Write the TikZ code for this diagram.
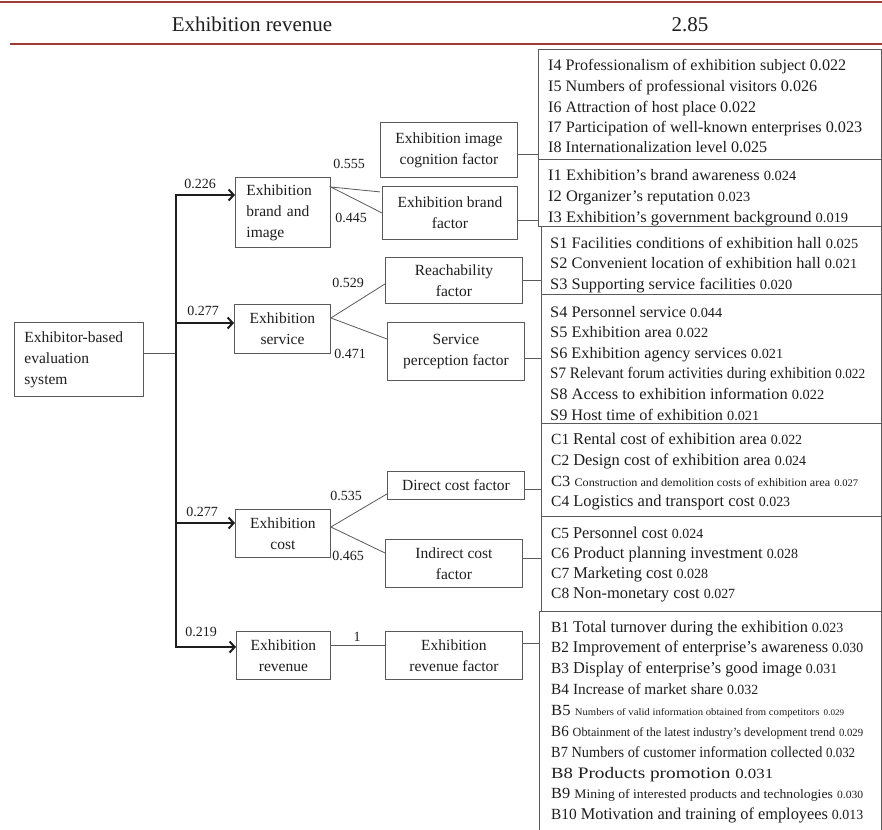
\documentclass[tikz,border=0pt]{standalone}
\usepackage{fontspec}
\setmainfont{Liberation Serif}
\usepackage{graphicx}
\usetikzlibrary{arrows.meta}
\definecolor{rulered}{HTML}{9E3B3B}
\definecolor{boxgray}{HTML}{5A5A5A}
\definecolor{txt}{HTML}{1E1E1E}
\newcommand\fitw[2]{\resizebox{#1pt}{\height}{#2}}
\newcommand\fsz[2]{{\fontsize{#1}{#1}\selectfont #2}}
\newcommand\pfx[1]{\fsz{15.5}{#1}}
\newcommand\nv[1]{\fsz{14}{#1}}
\begin{document}
\begin{tikzpicture}[x=1pt,y=-1pt,
  box/.style={draw=boxgray, line width=0.9pt, inner sep=0pt, anchor=north west, align=center, text=txt, font=\fontsize{15.5}{21}\selectfont},
  rbox/.style={draw=boxgray, line width=0.9pt, inner sep=0pt, anchor=north west},
  li/.style={anchor=base west, inner sep=0pt, text=txt, font=\fontsize{16}{16}\selectfont},
  lab/.style={inner sep=0pt, text=txt, font=\fontsize{14}{14}\selectfont},
  con/.style={draw=boxgray, line width=0.8pt},
  arr/.style={line width=2pt, draw=txt, -{Straight Barb[length=5pt,width=11pt]}},
  hdr/.style={anchor=base, inner sep=0pt, text=txt, font=\fontsize{21}{21}\selectfont},
  hrule/.style={draw=rulered}
]
\useasboundingbox (0,0) rectangle (882,829);
\fill[white] (0,0) rectangle (882,829);

% header
\draw[hrule, line width=2.5pt] (0,2) -- (882,2);
\draw[hrule, line width=1.6pt] (10,44) -- (882,44);
\node[hdr] (h1) at (252,32) {Exhibition revenue};
\node[hdr] (h2) at (690,32) {2.85};

% right list boxes
\node[rbox, minimum width=343pt, minimum height=110pt] (Ia) at (538,49) {};
\node[rbox, minimum width=343pt, minimum height=67pt] (Ib) at (538,159) {};
\node[rbox, minimum width=340pt, minimum height=68pt] (Sa) at (541,226) {};
\node[rbox, minimum width=340pt, minimum height=129pt] (Sb) at (541,294) {};
\node[rbox, minimum width=340pt, minimum height=93pt] (Ca) at (541,423) {};
\node[rbox, minimum width=340pt, minimum height=95pt] (Cb) at (541,516) {};
\node[rbox, draw=none, minimum width=342pt, minimum height=230pt] (Bb) at (539,611) {};
\draw[con, line width=0.9pt] (Bb.south west) -- (Bb.north west) -- (Bb.north east) -- (Bb.south east);

% list lines
\node[li] (i4) at (548,71) {\fitw{298}{I4 Professionalism of exhibition subject 0.022}};
\node[li] (i5) at (548,92) {\fitw{269}{I5 Numbers of professional visitors 0.026}};
\node[li] (i6) at (548,113) {\fitw{208}{I6 Attraction of host place 0.022}};
\node[li] (i7) at (548,133) {\fitw{314}{I7 Participation of well-known enterprises 0.023}};
\node[li] (i8) at (548,153) {\fitw{219}{I8 Internationalization level 0.025}};
\node[li] (i1) at (548,180) {\fitw{248}{I1 Exhibition’s brand awareness \nv{0.024}}};
\node[li] (i2) at (548,201) {\fitw{202}{I2 Organizer’s reputation \nv{0.023}}};
\node[li] (i3) at (548,222) {\fitw{300}{I3 Exhibition’s government background \nv{0.019}}};

\node[li] (s1) at (550,248) {\fitw{308}{S1 Facilities conditions of exhibition hall \nv{0.025}}};
\node[li] (s2) at (550,268) {\fitw{307}{S2 Convenient location of exhibition hall \nv{0.021}}};
\node[li] (s3) at (550,289) {\fitw{242}{S3 Supporting service facilities \nv{0.020}}};
\node[li] (s4) at (550,317) {\fitw{172}{S4 Personnel service \nv{0.044}}};
\node[li] (s5) at (550,337) {\fitw{158}{S5 Exhibition area \nv{0.022}}};
\node[li] (s6) at (550,358) {\fitw{233}{S6 Exhibition agency services \nv{0.021}}};
\node[li] (s7) at (550,378) {\fitw{315}{S7 Relevant forum activities during exhibition \nv{0.022}}};
\node[li] (s8) at (550,399) {\fitw{274}{S8 Access to exhibition information \nv{0.022}}};
\node[li] (s9) at (550,420) {\fitw{209}{S9 Host time of exhibition \nv{0.021}}};

\node[li] (c1) at (551,444) {\fitw{251}{\pfx{C1} \fsz{16.5}{Rental cost of exhibition area} \nv{0.022}}};
\node[li] (c2) at (551,465) {\fitw{255}{\pfx{C2} \fsz{16.5}{Design cost of exhibition area} \nv{0.024}}};
\node[li] (c3) at (551,486) {\fitw{307}{\pfx{C3} \fsz{11.5}{Construction and demolition costs of exhibition area} \fsz{10}{0.027}}};
\node[li] (c4) at (551,506) {\fitw{239}{\pfx{C4} \fsz{16.5}{Logistics and transport cost} \nv{0.023}}};
\node[li] (c5) at (551,538) {\fitw{152}{\pfx{C5} \fsz{16.5}{Personnel cost} \nv{0.024}}};
\node[li] (c6) at (551,558) {\fitw{247}{\pfx{C6} \fsz{16.5}{Product planning investment} \nv{0.028}}};
\node[li] (c7) at (551,578) {\fitw{157}{\pfx{C7} \fsz{16.5}{Marketing cost} \nv{0.028}}};
\node[li] (c8) at (551,598) {\fitw{184}{\pfx{C8} \fsz{16.5}{Non-monetary cost} \nv{0.027}}};

\node[li] (b1) at (551,632) {\fitw{292}{\pfx{B1} \fsz{16.5}{Total turnover during the exhibition} \nv{0.023}}};
\node[li] (b2) at (551,652) {\fitw{312}{\pfx{B2} \fsz{16.5}{Improvement of enterprise’s awareness} \nv{0.030}}};
\node[li] (b3) at (551,673) {\fitw{286}{\pfx{B3} \fsz{16.5}{Display of enterprise’s good image} \nv{0.031}}};
\node[li] (b4) at (551,694) {\fitw{207}{\pfx{B4} \fsz{15.5}{Increase of market share} \nv{0.032}}};
\node[li] (b5) at (551,715) {\fitw{293}{\pfx{B5} \fsz{10}{Numbers of valid information obtained from competitors} \fsz{8.5}{0.029}}};
\node[li] (b6) at (551,736) {\fitw{312}{\pfx{B6} \fsz{12.5}{Obtainment of the latest industry’s development trend} \fsz{11}{0.029}}};
\node[li] (b7) at (551,757) {\fitw{304}{\pfx{B7} \fsz{15.5}{Numbers of customer information collected} \nv{0.032}}};
\node[li] (b8) at (551,778) {\fitw{222}{\pfx{B8} \fsz{16}{Products promotion} \nv{0.031}}};
\node[li] (b9) at (551,798) {\fitw{312}{\pfx{B9} \fsz{13}{Mining of interested products and technologies} \fsz{11}{0.030}}};
\node[li] (b10) at (551,819) {\fitw{312}{\pfx{B10} \fsz{16.5}{Motivation and training of employees} \nv{0.013}}};

% main boxes
\node[box, minimum width=129pt, minimum height=74pt, align=left, text width=109pt] (root) at (14,322) {Exhibitor-based\\evaluation\\system};
\node[box, minimum width=95pt, minimum height=70pt, align=left, text width=73pt] (brand) at (235,177) {Exhibition\\\makebox[73pt][s]{brand and}\\image};
\node[box, minimum width=96pt, minimum height=49pt] (serv) at (234,304) {Exhibition\\service};
\node[box, minimum width=95pt, minimum height=48pt] (cost) at (235,509) {Exhibition\\cost};
\node[box, minimum width=94pt, minimum height=48pt] (rev) at (236,631) {Exhibition\\revenue};

\node[box, minimum width=137pt, minimum height=55pt] (img) at (380,122) {Exhibition image\\cognition factor};
\node[box, minimum width=135pt, minimum height=53pt] (bf) at (382,186) {Exhibition brand\\factor};
\node[box, minimum width=137pt, minimum height=46pt] (reach) at (385,257) {Reachability\\factor};
\node[box, minimum width=137pt, minimum height=58pt] (perc) at (387,322) {Service\\perception factor};
\node[box, minimum width=137pt, minimum height=28pt] (direct) at (387,471) {Direct cost factor};
\node[box, minimum width=137pt, minimum height=48pt] (indir) at (385,539) {Indirect cost\\factor};
\node[box, minimum width=137pt, minimum height=48pt] (revf) at (385,631) {Exhibition\\revenue factor};

% trunk and arrows
\coordinate (tA) at (176,195);
\coordinate (tB) at (176,323);
\coordinate (tC) at (176,523);
\coordinate (tD) at (176,647);
\coordinate (r0) at ([yshift=6pt]root.east);
\draw[con] (r0) -- (r0 -| tA);
\draw[arr] (tD) -- (tA) -- (tA -| brand.west);
\draw[arr] (tA) -- (tD) -- (tD -| rev.west);
\draw[arr] (tB) -- (tB -| serv.west);
\draw[arr] (tC) -- (tC -| cost.west);

% branch lines
\draw[con] ([yshift=-14pt]img.south west) -- ([yshift=-10pt]brand.north east) -- ([yshift=-27pt]bf.north west);
\draw[con] ([yshift=20pt]reach.south west) -- ([yshift=-14pt]serv.north east) -- ([yshift=-17pt]perc.north west);
\draw[con] ([yshift=6pt]direct.south west) -- ([yshift=-18pt]cost.north east) -- ([yshift=-14pt]indir.north west);
\draw[con] ([yshift=-14pt]rev.north east) -- ([yshift=-14pt]revf.north west);

% connectors to lists
\coordinate (k1) at ([yshift=23pt]img.south east);
\coordinate (k2) at ([yshift=20pt]bf.south east);
\coordinate (k3) at ([yshift=24pt]reach.south east);
\coordinate (k4) at ([yshift=23pt]perc.south east);
\coordinate (k5) at ([yshift=11pt]direct.south east);
\coordinate (k6) at ([yshift=30pt]indir.south east);
\coordinate (k7) at ([yshift=-12pt]revf.north east);
\draw[con] (k1) -- (k1 -| Ia.west);
\draw[con] (k2) -- (k2 -| Ib.west);
\draw[con] (k3) -- (k3 -| Sa.west);
\draw[con] (k4) -- (k4 -| Sb.west);
\draw[con] (k5) -- (k5 -| Ca.west);
\draw[con] (k6) -- (k6 -| Cb.west);
\draw[con] (k7) -- (k7 -| Bb.west);

% weight labels
\node[lab] (w1) at (200,184) {0.226};
\node[lab] (w2) at (203,311) {0.277};
\node[lab] (w3) at (202,512) {0.277};
\node[lab] (w4) at (201,632) {0.219};
\node[lab] (w5) at (349,164) {0.555};
\node[lab] (w6) at (351,218) {0.445};
\node[lab] (w7) at (348,283) {0.529};
\node[lab] (w8) at (350,354) {0.471};
\node[lab] (w9) at (346,496) {0.535};
\node[lab] (w10) at (348,556) {0.465};
\node[lab] (w11) at (357,637) {1};
\end{tikzpicture}
\end{document}
